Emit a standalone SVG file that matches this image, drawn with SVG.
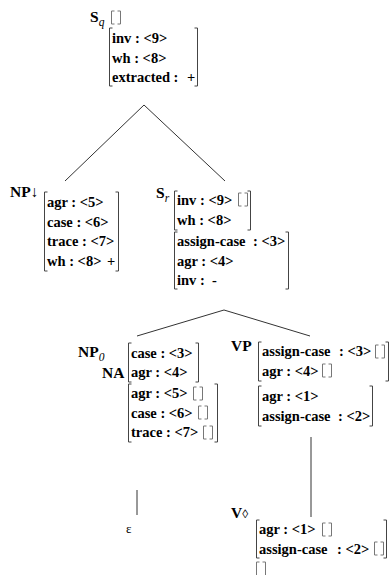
<svg xmlns="http://www.w3.org/2000/svg" width="391" height="575" viewBox="0 0 391 575">
<style>
.t{font-family:"Liberation Serif",serif;font-weight:bold;font-size:14.5px;fill:#000}
.l{font-family:"Liberation Serif",serif;font-weight:bold;font-size:15.5px;fill:#000}
.sub{font-family:"Liberation Serif",serif;font-style:italic;font-weight:normal;font-size:11.5px;fill:#000}
.br{fill:none;stroke:#444;stroke-width:1}
.eb{fill:none;stroke:#777;stroke-width:1}
.e{fill:none;stroke:#333;stroke-width:1}
</style>
<rect width="391" height="575" fill="#fff"/>
<g id="connectors">
<path class="e" d="M144,105 L65,181 M144,105 L225,181"/>
<path class="e" d="M224,310 L137,336 M224,310 L310,336"/>
<path class="e" d="M311,437 V517"/>
<path class="e" d="M137,490 V515"/>
</g>
<g id="Sq">
<text class="l" x="90" y="22">S<tspan class="sub" dy="4">q</tspan></text>
<path class="eb" d="M114.5,11 h-3 v13 h3 M117.5,11 h3 v13 h-3"/>
<path class="br" d="M112.5,28 h-3 v58 h3 M194.5,28 h3 v58 h-3"/>
<text class="t" x="112" y="43">inv : &lt;9&gt;</text>
<text class="t" x="112" y="62.5">wh : &lt;8&gt;</text>
<text class="t" x="112" y="82">extracted :</text>
<text class="t" x="187" y="82">+</text>
</g>
<g id="NP">
<text class="l" x="10" y="197">NP<tspan style="font-weight:normal">↓</tspan></text>
<path class="br" d="M47.5,192 h-3 v79 h3 M115.5,192 h3 v79 h-3"/>
<text class="t" x="47" y="207">agr : &lt;5&gt;</text>
<text class="t" x="47" y="226.5">case : &lt;6&gt;</text>
<text class="t" x="47" y="246">trace : &lt;7&gt;</text>
<text class="t" x="47" y="265.5">wh : &lt;8&gt;</text>
<text class="t" x="107" y="265.5">+</text>
</g>
<g id="Sr">
<text class="l" x="156" y="198">S<tspan class="sub" dy="4">r</tspan></text>
<path class="br" d="M177.5,191 h-3 v39 h3 M247.5,191 h3 v39 h-3"/>
<path class="eb" d="M241.5,193 h-3 v13 h3 M244.5,193 h3 v13 h-3"/>
<text class="t" x="177" y="205">inv : &lt;9&gt;</text>
<text class="t" x="177" y="224.5">wh : &lt;8&gt;</text>
<path class="br" d="M177.5,232 h-3 v57 h3 M285.5,232 h3 v57 h-3"/>
<text class="t" x="177" y="246">assign-case</text>
<text class="t" x="253" y="246">: &lt;3&gt;</text>
<text class="t" x="177" y="265.5">agr : &lt;4&gt;</text>
<text class="t" x="177" y="285">inv :</text>
<text class="t" x="212" y="285">-</text>
</g>
<g id="NP0">
<text class="l" x="78" y="357">NP<tspan class="sub" dy="4">0</tspan></text>
<text class="l" x="102" y="378">NA</text>
<path class="br" d="M131.5,343 h-3 v39 h3 M195.5,343 h3 v39 h-3"/>
<text class="t" x="131" y="357.5">case : &lt;3&gt;</text>
<text class="t" x="131" y="377">agr : &lt;4&gt;</text>
<path class="br" d="M131.5,384 h-3 v58 h3 M214.5,384 h3 v58 h-3"/>
<text class="t" x="131" y="398">agr : &lt;5&gt;</text>
<path class="eb" d="M196.5,387 h-3 v13 h3 M199.5,387 h3 v13 h-3"/>
<text class="t" x="131" y="417.5">case : &lt;6&gt;</text>
<path class="eb" d="M201.5,406 h-3 v13 h3 M204.5,406 h3 v13 h-3"/>
<text class="t" x="131" y="437">trace : &lt;7&gt;</text>
<path class="eb" d="M206.5,426 h-3 v13 h3 M209.5,426 h3 v13 h-3"/>
</g>
<g id="VP">
<text class="l" x="231" y="351">VP</text>
<path class="br" d="M261.5,342 h-3 v39 h3 M385.5,342 h3 v39 h-3"/>
<text class="t" x="262" y="356">assign-case</text>
<text class="t" x="339" y="356">: &lt;3&gt;</text>
<path class="eb" d="M378.5,345 h-3 v13 h3 M381.5,345 h3 v13 h-3"/>
<text class="t" x="262" y="375.5">agr : &lt;4&gt;</text>
<path class="eb" d="M325.5,364 h-3 v13 h3 M328.5,364 h3 v13 h-3"/>
<path class="br" d="M261.5,386 h-3 v40 h3 M369.5,386 h3 v40 h-3"/>
<text class="t" x="262" y="401">agr : &lt;1&gt;</text>
<text class="t" x="262" y="420.5">assign-case</text>
<text class="t" x="338" y="420.5">: &lt;2&gt;</text>
</g>
<g id="eps">
<text x="126" y="533" style="font-family:'Liberation Serif',serif;font-size:13px;fill:#000">ε</text>
</g>
<g id="V">
<text class="l" x="231" y="518">V<tspan style="font-weight:normal;font-size:12px">◊</tspan></text>
<path class="br" d="M259.5,520 h-3 v38 h3 M383.5,520 h3 v38 h-3"/>
<text class="t" x="259" y="534">agr : &lt;1&gt;</text>
<path class="eb" d="M325.5,523 h-3 v13 h3 M328.5,523 h3 v13 h-3"/>
<text class="t" x="259" y="553.5">assign-case</text>
<text class="t" x="337" y="553.5">: &lt;2&gt;</text>
<path class="eb" d="M377.5,542 h-3 v13 h3 M380.5,542 h3 v13 h-3"/>
<path class="eb" d="M259.5,562 h-3 v14 h3 M262.5,562 h3 v14 h-3"/>
</g>
</svg>
